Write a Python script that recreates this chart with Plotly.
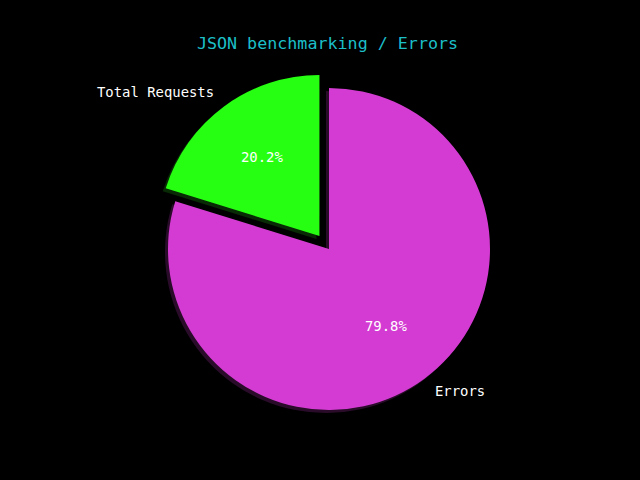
import math
import plotly.graph_objects as go

# ---- data ----
labels = ["Total Requests", "Errors"]
values = [20.2, 79.8]
pulls = [0.1, 0.0]
colors = ["#26ff12", "#d43bd2"]
shadow_colors = ["#082a05", "#2a0c2a"]
title_text = "JSON benchmarking / Errors"

# ---- layout geometry (pixels) ----
W, H = 640, 480
CX, CY, R = 329.0, 249.0, 161.0
SHADOW_DX, SHADOW_DY = -3.0, 3.0
maxpull = max(pulls)
half = R * (1 + maxpull)
total = sum(values)
# first slice starts at 12 o'clock and runs counterclockwise
rot = -360.0 * values[0] / total


def domain(cx, cy):
    return dict(x=[(cx - half) / W, (cx + half) / W],
                y=[1 - (cy + half) / H, 1 - (cy - half) / H])


mono = "DejaVu Sans Mono"
fig = go.Figure()
fig.add_trace(go.Pie(labels=labels, values=values, pull=pulls, sort=False,
                     direction="counterclockwise", rotation=rot,
                     marker=dict(colors=shadow_colors, line=dict(width=0)),
                     textinfo="none", hoverinfo="skip", showlegend=False,
                     domain=domain(CX + SHADOW_DX, CY + SHADOW_DY)))
fig.add_trace(go.Pie(labels=labels, values=values, pull=pulls, sort=False,
                     direction="counterclockwise", rotation=rot,
                     marker=dict(colors=colors, line=dict(width=0)),
                     textinfo="none", showlegend=False,
                     domain=domain(CX, CY)))

# label / percentage annotations positioned from the slice angles
start = 90.0
annotations = []
for lab, v, p in zip(labels, values, pulls):
    span = 360.0 * v / total
    mid = math.radians(start + span / 2)
    start += span
    ox = CX + p * R * math.cos(mid)
    oy = CY - p * R * math.sin(mid)
    lx = ox + 1.1 * R * math.cos(mid)
    ly = oy - 1.1 * R * math.sin(mid)
    px = ox + 0.6 * R * math.cos(mid)
    py = oy - 0.6 * R * math.sin(mid)
    left = math.cos(mid) < 0
    annotations.append(dict(x=(lx + (2 if left else -1)) / W, y=1 - (ly - 1) / H,
                            xref="paper", yref="paper",
                            text=lab, showarrow=False,
                            xanchor="right" if left else "left",
                            yanchor="middle",
                            font=dict(family=mono, size=13.9, color="white")))
    annotations.append(dict(x=px / W, y=1 - (py - 1) / H, xref="paper", yref="paper",
                            text=f"{100 * v / total:.1f}%", showarrow=False,
                            xanchor="center", yanchor="middle",
                            font=dict(family=mono, size=13.9, color="white")))

fig.update_layout(
    width=W, height=H,
    margin=dict(l=0, r=0, t=0, b=0),
    paper_bgcolor="black", plot_bgcolor="black",
    title=dict(text=title_text, x=327.5 / W, xanchor="center", y=1 - 43 / H,
               yanchor="middle", font=dict(family=mono, size=16.7, color="#1cbfc8")),
    annotations=annotations,
)

fig.write_html("out.html")
